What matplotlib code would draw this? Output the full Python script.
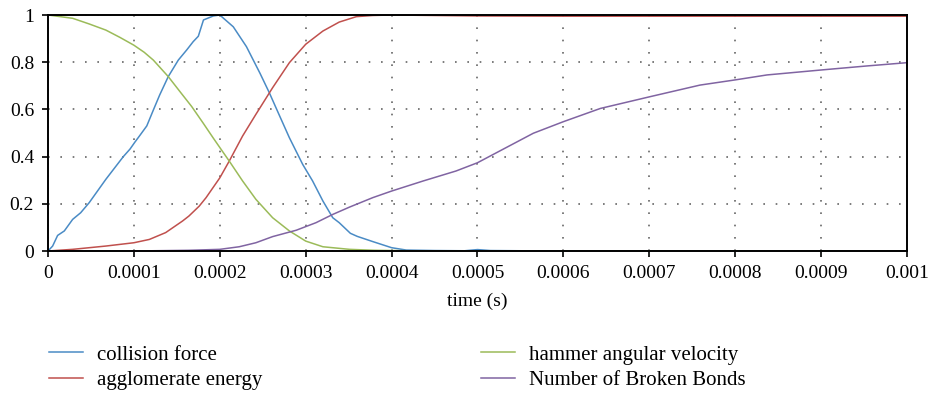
import matplotlib
matplotlib.use("Agg")
import matplotlib.pyplot as plt
import numpy as np

# time values are read in units of 1e-4 s
t_force = np.array([0, 0.054, 0.112, 0.19, 0.287, 0.38, 0.48, 0.674, 0.877, 0.955, 1.009, 1.07,
                    1.15, 1.226, 1.30, 1.40, 1.517, 1.615, 1.69, 1.75, 1.81, 1.925, 2.0, 2.157,
                    2.31, 2.468, 2.576, 2.654, 2.81, 2.965, 3.08, 3.2, 3.315, 3.39, 3.52, 3.6,
                    3.78, 4.0, 4.17, 4.5, 4.85, 5.0, 5.15, 5.5, 6.0, 10.0]) * 1e-4
collision_force = [0, 0.021, 0.066, 0.085, 0.134, 0.162, 0.205, 0.304, 0.40, 0.432, 0.46, 0.49,
                   0.53, 0.597, 0.661, 0.739, 0.809, 0.852, 0.887, 0.91, 0.979, 0.996, 1.0, 0.95,
                   0.866, 0.753, 0.671, 0.607, 0.48, 0.367, 0.297, 0.212, 0.141, 0.12, 0.075,
                   0.062, 0.04, 0.014, 0.004, 0.002, 0.001, 0.006, 0.002, 0.001, 0.0, 0.0]

t_energy = np.array([0, 0.287, 0.674, 1.0, 1.18, 1.37, 1.566, 1.64, 1.76, 1.84, 2.0, 2.11, 2.265,
                     2.42, 2.615, 2.81, 3.0, 3.2, 3.39, 3.59, 3.78, 4.0, 4.5, 5.0, 6.0, 7.0, 8.0,
                     9.0, 10.0]) * 1e-4
agglomerate_energy = [0, 0.007, 0.021, 0.035, 0.049, 0.078, 0.127, 0.148, 0.19, 0.226, 0.31, 0.381,
                      0.487, 0.579, 0.692, 0.798, 0.876, 0.932, 0.97, 0.993, 0.998, 1.0, 0.998,
                      0.996, 0.995, 0.995, 0.995, 0.995, 0.995]

t_velocity = np.array([0, 0.287, 0.48, 0.674, 0.838, 1.0, 1.12, 1.226, 1.40, 1.537, 1.673, 1.808,
                       1.925, 2.02, 2.11, 2.265, 2.42, 2.615, 2.81, 3.0, 3.2, 3.51, 3.8, 4.2, 5.0,
                       10.0]) * 1e-4
angular_velocity = [1, 0.986, 0.962, 0.936, 0.905, 0.872, 0.842, 0.809, 0.739, 0.675, 0.612, 0.541,
                    0.478, 0.428, 0.381, 0.297, 0.219, 0.141, 0.085, 0.042, 0.018, 0.007, 0.003,
                    0.001, 0, 0]

t_bonds = np.array([0, 1.0, 1.64, 2.0, 2.226, 2.42, 2.615, 2.89, 3.12, 3.315, 3.51, 3.78, 4.0,
                    4.37, 4.75, 5.0, 5.26, 5.65, 6.0, 6.43, 7.01, 7.59, 8.0, 8.37, 9.0, 9.53,
                    10.0]) * 1e-4
broken_bonds = [0, 0.0, 0.003, 0.007, 0.018, 0.035, 0.061, 0.088, 0.12, 0.155, 0.186, 0.226,
                0.254, 0.297, 0.339, 0.374, 0.424, 0.499, 0.548, 0.604, 0.654, 0.703, 0.725,
                0.746, 0.767, 0.784, 0.798]

x_ticks = [0, 0.0001, 0.0002, 0.0003, 0.0004, 0.0005, 0.0006, 0.0007, 0.0008, 0.0009, 0.001]
x_labels = ["0", "0.0001", "0.0002", "0.0003", "0.0004", "0.0005", "0.0006", "0.0007",
            "0.0008", "0.0009", "0.001"]
y_ticks = [0, 0.2, 0.4, 0.6, 0.8, 1]
y_labels = ["0", "0.2", "0.4", "0.6", "0.8", "1"]

plt.rcParams["font.family"] = ["Liberation Serif", "DejaVu Serif"]
plt.rcParams["font.size"] = 14

fig = plt.figure(figsize=(9.29, 3.96), dpi=100)
ax = fig.add_axes([48 / 929, 1 - 251 / 396, 859 / 929, 236 / 396])

lw = 1.1
l1, = ax.plot(t_force, collision_force, color="#4a8bc5", lw=lw, label="collision force")
l2, = ax.plot(t_energy, agglomerate_energy, color="#c0504d", lw=lw, label="agglomerate energy")
l3, = ax.plot(t_velocity, angular_velocity, color="#9bbb59", lw=lw, label="hammer angular velocity")
l4, = ax.plot(t_bonds, broken_bonds, color="#8064a2", lw=lw, label="Number of Broken Bonds")

ax.set_xlim(0, 0.001)
ax.set_ylim(0, 1)
ax.set_xticks(x_ticks)
ax.set_xticklabels(x_labels)
ax.set_yticks(y_ticks)
ax.set_yticklabels(y_labels)
ax.tick_params(direction="out", length=4, width=1.2, color="black", pad=6)
ax.grid(True, color="#666666", linestyle=(0, (1, 6.4)), linewidth=1.2)
for s in ax.spines.values():
    s.set_linewidth(1.4)
    s.set_color("black")
ax.set_xlabel("time (s)", labelpad=8)

common = dict(frameon=False, loc="upper left", borderaxespad=0, borderpad=0,
              handlelength=1.63, handletextpad=0.67, labelspacing=0.3, fontsize=15)
fig.legend(handles=[l1, l2], bbox_to_anchor=(49 / 929, 1 - 345 / 396), **common)
fig.legend(handles=[l3, l4], bbox_to_anchor=(481 / 929, 1 - 345 / 396), **common)

fig.savefig("out.png", dpi=100)
